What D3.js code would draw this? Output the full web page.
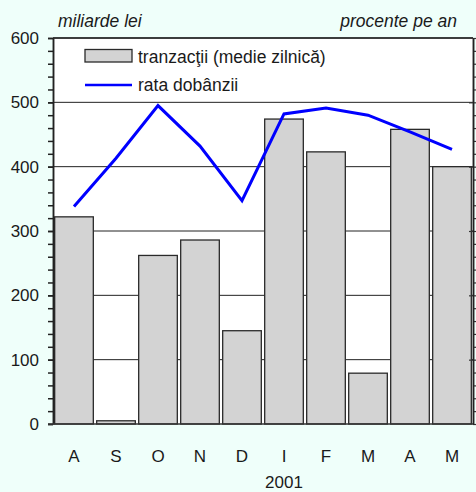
<!DOCTYPE html>
<html>
<head>
<meta charset="utf-8">
<script src="https://cdn.jsdelivr.net/npm/d3@7"></script>
<style>
  body { margin: 0; background: #effffa; }
  svg { display: block; font-family: 'Liberation Sans', Arial, sans-serif; }
</style>
</head>
<body>
<svg id="chart"></svg>
<script>
var luni = ['A', 'S', 'O', 'N', 'D', 'I', 'F', 'M', 'A', 'M']
var tranzactii = [322, 5, 262, 286, 145, 474, 423, 79, 458, 400]
var rataDobanzii = [16.9, 20.65, 24.75, 21.6, 17.35, 24.1, 24.55, 24.0, 22.7, 21.35]
var yTicks = [0, 100, 200, 300, 400, 500, 600]

var W = 476, H = 492
var plot = {left: 53, right: 473, top: 38, bottom: 424}

var svg = d3.select('#chart').attr('width', W).attr('height', H)

var x = d3.scaleBand()
    .domain(d3.range(luni.length))
    .range([plot.left, plot.right])
    .paddingInner(0.08)
    .paddingOuter(0.04)

var y = d3.scaleLinear().domain([0, 600]).range([plot.bottom, plot.top])
var yR = d3.scaleLinear().domain([0, 30]).range([plot.bottom, plot.top])

// plot background
svg.append('rect')
    .attr('x', plot.left).attr('y', plot.top)
    .attr('width', plot.right - plot.left).attr('height', plot.bottom - plot.top)
    .attr('fill', '#fff')

// gridlines
svg.append('g').selectAll('line')
    .data(yTicks.slice(1))
    .join('line')
    .attr('x1', plot.left).attr('x2', plot.right)
    .attr('y1', d => y(d)).attr('y2', d => y(d))
    .attr('stroke', '#222').attr('stroke-width', 1)

// bars
svg.append('g').selectAll('rect')
    .data(tranzactii)
    .join('rect')
    .attr('x', (d, i) => x(i))
    .attr('y', d => y(d))
    .attr('width', x.bandwidth())
    .attr('height', d => y(0) - y(d))
    .attr('fill', '#d3d3d3')
    .attr('stroke', '#2a2a2a')
    .attr('stroke-width', 1.3)

// interest rate line
var line = d3.line()
    .x((d, i) => x(i) + x.bandwidth() / 2)
    .y(d => yR(d))

svg.append('path')
    .datum(rataDobanzii)
    .attr('d', line)
    .attr('fill', 'none')
    .attr('stroke', '#0000ff')
    .attr('stroke-width', 3)

// left axis: minor ticks then labelled ones
var gLeft = svg.append('g').attr('transform', 'translate(' + plot.left + ',0)')
gLeft.call(d3.axisLeft(y).tickValues(d3.range(0, 601, 20)).tickSize(5).tickSizeOuter(0).tickFormat(''))
gLeft.append('g').call(d3.axisLeft(y).tickValues(yTicks).tickSize(5).tickPadding(9).tickSizeOuter(0))
gLeft.selectAll('text').attr('font-size', '17px').attr('fill', '#1a1a1a').attr('font-family', 'Liberation Sans, Arial, sans-serif')
gLeft.selectAll('line').attr('stroke', '#222').attr('stroke-width', 1.5)
gLeft.selectAll('.domain').attr('stroke', '#222').attr('stroke-width', 1.5)

// right axis (percent), labels fall outside the frame
var gRight = svg.append('g').attr('transform', 'translate(' + plot.right + ',0)')
gRight.call(d3.axisRight(yR).tickValues(d3.range(0, 31, 1)).tickSize(4).tickSizeOuter(0).tickFormat(''))
gRight.append('g').call(d3.axisLeft(yR).tickValues([5, 10, 15, 20, 25]).tickSize(4).tickSizeOuter(0).tickFormat(''))
gRight.selectAll('line').attr('stroke', '#333').attr('stroke-width', 1.2)
gRight.selectAll('.domain').attr('stroke', '#222').attr('stroke-width', 1.5)

// top border
svg.append('line')
    .attr('x1', plot.left).attr('x2', plot.right)
    .attr('y1', plot.top).attr('y2', plot.top)
    .attr('stroke', '#222').attr('stroke-width', 1.3)

// bottom axis
var gBottom = svg.append('g').attr('transform', 'translate(0,' + plot.bottom + ')')
gBottom.call(d3.axisBottom(x).tickSize(0).tickPadding(26).tickFormat(i => luni[i]))
gBottom.selectAll('text').attr('font-size', '17px').attr('fill', '#1a1a1a').attr('font-family', 'Liberation Sans, Arial, sans-serif')
gBottom.select('.domain').attr('stroke', '#333').attr('stroke-width', 1.5)
    .attr('d', 'M' + (plot.left - 5) + ',0H' + plot.right)

svg.append('text')
    .text('2001')
    .attr('x', x(5) + x.bandwidth() / 2)
    .attr('y', 488)
    .attr('text-anchor', 'middle')
    .attr('font-size', '17px')
    .attr('fill', '#1a1a1a')

// unit labels
svg.append('text')
    .text('miliarde lei')
    .attr('x', 58).attr('y', 27)
    .attr('font-size', '17.5px')
    .attr('font-style', 'italic')
    .attr('fill', '#1a1a1a')

svg.append('text')
    .text('procente pe an')
    .attr('x', 457).attr('y', 27)
    .attr('text-anchor', 'end')
    .attr('font-size', '17.5px')
    .attr('font-style', 'italic')
    .attr('fill', '#1a1a1a')

// legend
var legend = svg.append('g')
legend.append('rect')
    .attr('x', 85).attr('y', 49.5)
    .attr('width', 47).attr('height', 12.5)
    .attr('fill', '#d3d3d3').attr('stroke', '#2a2a2a').attr('stroke-width', 1.3)
legend.append('text')
    .text('tranzacţii (medie zilnică)')
    .attr('x', 138).attr('y', 63)
    .attr('font-size', '17.5px').attr('fill', '#1a1a1a')
legend.append('line')
    .attr('x1', 85).attr('x2', 132)
    .attr('y1', 85).attr('y2', 85)
    .attr('stroke', '#0000ff').attr('stroke-width', 2.5)
legend.append('text')
    .text('rata dobânzii')
    .attr('x', 138).attr('y', 91)
    .attr('font-size', '17.5px').attr('fill', '#1a1a1a')
</script>
</body>
</html>
